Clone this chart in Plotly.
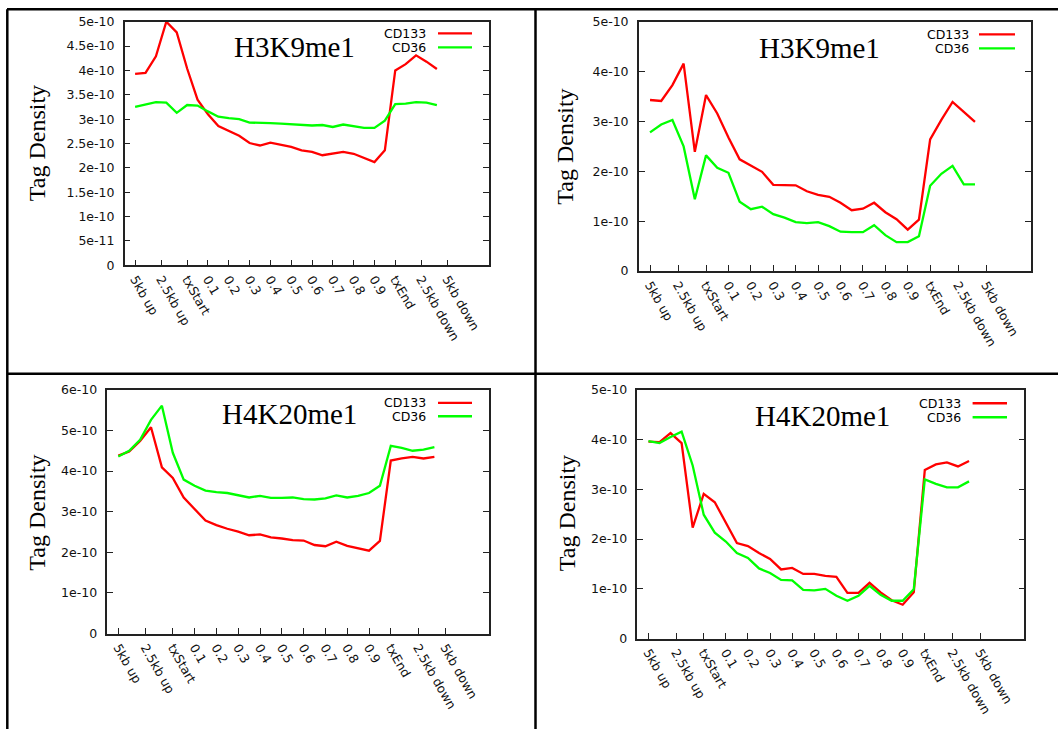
import plotly.graph_objects as go

W, H = 1058, 736
# the photographed page maps page-y to 8 + 0.97826 * y; target positions are pre-compensated
Y_OFF, Y_SCALE = 8.0, 720.0 / 736.0

# ---------------- data ----------------
bins = list(range(30))  # 5 upstream bins, 20 gene-body bins, 5 downstream bins
tick_pos = [0, 2.5, 5, 7, 9, 11, 13, 15, 17, 19, 21, 23, 25, 27.5, 30]
tick_labels = ["5kb up", "2.5kb up", "txStart", "0.1", "0.2", "0.3", "0.4", "0.5",
               "0.6", "0.7", "0.8", "0.9", "txEnd", "2.5kb down", "5kb down"]

# panel 1 (top-left) H3K9me1, units 1e-10
p1_cd133 = [3.93, 3.95, 4.29, 5.00, 4.78, 4.04, 3.40, 3.10, 2.86, 2.76, 2.66, 2.51, 2.46, 2.52, 2.47,
            2.43, 2.36, 2.33, 2.26, 2.29, 2.33, 2.29, 2.21, 2.12, 2.36, 4.00, 4.13, 4.31, 4.18, 4.03]
p1_cd36 = [3.25, 3.30, 3.35, 3.34, 3.13, 3.29, 3.28, 3.16, 3.05, 3.02, 3.00, 2.93, 2.93, 2.92, 2.91,
           2.90, 2.88, 2.87, 2.88, 2.84, 2.89, 2.85, 2.82, 2.82, 2.97, 3.31, 3.32, 3.35, 3.34, 3.29]
# panel 2 (top-right) H3K9me1
p2_cd133 = [3.43, 3.41, 3.73, 4.16, 2.39, 3.53, 3.16, 2.68, 2.24, 2.12, 1.99, 1.73, 1.73, 1.72, 1.60,
            1.53, 1.49, 1.37, 1.22, 1.25, 1.37, 1.18, 1.04, 0.83, 1.03, 2.64, 3.03, 3.39, 3.19, 2.99]
p2_cd36 = [2.78, 2.94, 3.03, 2.50, 1.44, 2.32, 2.07, 1.97, 1.39, 1.24, 1.29, 1.14, 1.07, 0.98, 0.96,
           0.98, 0.90, 0.79, 0.78, 0.78, 0.92, 0.72, 0.58, 0.58, 0.70, 1.71, 1.95, 2.11, 1.74, 1.74]
# panel 3 (bottom-left) H4K20me1
p3_cd133 = [4.38, 4.48, 4.74, 5.08, 4.09, 3.83, 3.35, 3.06, 2.78, 2.67, 2.58, 2.51, 2.42, 2.44, 2.37,
            2.34, 2.30, 2.29, 2.18, 2.15, 2.26, 2.16, 2.10, 2.04, 2.28, 4.26, 4.31, 4.35, 4.31, 4.35]
p3_cd36 = [4.36, 4.50, 4.77, 5.26, 5.61, 4.45, 3.79, 3.64, 3.52, 3.48, 3.46, 3.40, 3.35, 3.39, 3.34,
           3.34, 3.35, 3.31, 3.30, 3.33, 3.40, 3.35, 3.39, 3.46, 3.64, 4.62, 4.57, 4.50, 4.53, 4.59]
# panel 4 (bottom-right) H4K20me1
p4_cd133 = [3.96, 3.95, 4.13, 3.93, 2.23, 2.91, 2.74, 2.34, 1.92, 1.86, 1.72, 1.60, 1.39, 1.42, 1.30,
            1.30, 1.26, 1.24, 0.92, 0.92, 1.12, 0.93, 0.77, 0.68, 0.93, 3.39, 3.50, 3.54, 3.46, 3.57]
p4_cd36 = [3.97, 3.93, 4.05, 4.16, 3.48, 2.49, 2.13, 1.95, 1.72, 1.62, 1.41, 1.32, 1.18, 1.17, 0.98,
           0.97, 1.00, 0.86, 0.76, 0.86, 1.06, 0.88, 0.76, 0.76, 0.99, 3.20, 3.11, 3.04, 3.04, 3.16]

titles = ["H3K9me1", "H3K9me1", "H4K20me1", "H4K20me1"]
series_names = ["CD133", "CD36"]
y_ticks_1 = [0, 0.5e-10, 1e-10, 1.5e-10, 2e-10, 2.5e-10, 3e-10, 3.5e-10, 4e-10, 4.5e-10, 5e-10]
y_labels_1 = ["0", "5e-11", "1e-10", "1.5e-10", "2e-10", "2.5e-10", "3e-10", "3.5e-10", "4e-10", "4.5e-10", "5e-10"]
y_ticks_5 = [0, 1e-10, 2e-10, 3e-10, 4e-10, 5e-10]
y_labels_5 = ["0", "1e-10", "2e-10", "3e-10", "4e-10", "5e-10"]
y_ticks_6 = [0, 1e-10, 2e-10, 3e-10, 4e-10, 5e-10, 6e-10]
y_labels_6 = ["0", "1e-10", "2e-10", "3e-10", "4e-10", "5e-10", "6e-10"]

RED = "#ff0000"
GREEN = "#00ff00"
SANS = "DejaVu Sans, Liberation Sans, sans-serif"
SERIF = "Liberation Serif, Times New Roman, serif"
TICK_SIZE = 12.5


def px_x(p):
    return p / W


def page_y(p):
    return 1 - p / H


def px_y(p):
    return page_y((p - Y_OFF) / Y_SCALE)


# panel layout in target pixels: left, right, top, bottom
panels = [
    dict(box=(124.7, 488.9, 21.7, 265.0), data=(p1_cd133, p1_cd36), yt=(y_ticks_1, y_labels_1), yr=5e-10,
         title=(294, 46.7), ylab=(37, 143), leg=(428.4, 33.3, 47.3, 438, 472)),
    dict(box=(638.8, 1031.0, 21.7, 270.7), data=(p2_cd133, p2_cd36), yt=(y_ticks_5, y_labels_5), yr=5e-10,
         title=(819, 47.7), ylab=(565.5, 147), leg=(971, 34.3, 48.3, 979, 1015)),
    dict(box=(107.4, 488.9, 389.3, 632.7), data=(p3_cd133, p3_cd36), yt=(y_ticks_6, y_labels_6), yr=6e-10,
         title=(289, 413), ylab=(37, 512), leg=(428.4, 402.3, 415.7, 438, 472)),
    dict(box=(637.4, 1024.3, 389.3, 637.7), data=(p4_cd133, p4_cd36), yt=(y_ticks_5, y_labels_5), yr=5e-10,
         title=(822, 415.7), ylab=(566.5, 513), leg=(963.4, 402.7, 416.7, 972.6, 1007)),
]

fig = go.Figure()
annotations = []
shapes = []

for i, p in enumerate(panels):
    n = "" if i == 0 else str(i + 1)
    xa, ya = "x" + n, "y" + n
    red_vals, green_vals = p["data"]
    fig.add_trace(go.Scatter(x=bins, y=[v * 1e-10 for v in red_vals], mode="lines",
                             line=dict(color=RED, width=2.3), name=series_names[0],
                             xaxis=xa, yaxis=ya, showlegend=False))
    fig.add_trace(go.Scatter(x=bins, y=[v * 1e-10 for v in green_vals], mode="lines",
                             line=dict(color=GREEN, width=2.3), name=series_names[1],
                             xaxis=xa, yaxis=ya, showlegend=False))
    l, r, t, b = p["box"]
    fig.update_layout(**{
        "xaxis" + n: dict(domain=[px_x(l), px_x(r)], range=[-1, 34], anchor=ya,
                          tickvals=tick_pos, ticktext=tick_labels, tickangle=60,
                          ticks="inside", ticklen=6, tickcolor="#222", tickwidth=1,
                          showline=True, linecolor="#222", linewidth=1.5, mirror=True,
                          showgrid=False, zeroline=False,
                          tickfont=dict(family=SANS, size=TICK_SIZE, color="#111")),
        "yaxis" + n: dict(domain=[px_y(b), px_y(t)], range=[0, p["yr"]], anchor=xa,
                          tickvals=p["yt"][0], ticktext=p["yt"][1],
                          ticks="inside", ticklen=6, tickcolor="#222", tickwidth=1,
                          showline=True, linecolor="#222", linewidth=1.5, mirror="ticks",
                          showgrid=False, zeroline=False, ticklabelstandoff=6,
                          tickfont=dict(family=SANS, size=TICK_SIZE, color="#111")),
    })
    # panel title
    annotations.append(dict(text=titles[i], x=px_x(p["title"][0]), y=px_y(p["title"][1]),
                            xref="paper", yref="paper", showarrow=False, xanchor="center", yanchor="middle",
                            font=dict(family=SERIF, size=29, color="#000")))
    # y axis title
    annotations.append(dict(text="Tag Density", x=px_x(p["ylab"][0]), y=px_y(p["ylab"][1]),
                            xref="paper", yref="paper", showarrow=False, xanchor="center", yanchor="middle",
                            textangle=-90, font=dict(family=SERIF, size=24, color="#000")))
    # legend
    tx, y1, y2, lx0, lx1 = p["leg"]
    for name, yy, col in ((series_names[0], y1, RED), (series_names[1], y2, GREEN)):
        annotations.append(dict(text=name, x=px_x(tx), y=px_y(yy), xref="paper", yref="paper",
                                showarrow=False, xanchor="right", yanchor="middle",
                                font=dict(family=SANS, size=TICK_SIZE, color="#000")))
        shapes.append(dict(type="line", xref="paper", yref="paper", x0=px_x(lx0), x1=px_x(lx1),
                           y0=px_y(yy), y1=px_y(yy), line=dict(color=col, width=2.3)))

# table grid lines, given directly in page pixels (edges kept inside the page)
mid_h = (373.3 - Y_OFF) / Y_SCALE
grid_lines = [
    (7, 1.3, W, 1.3),          # top
    (7.3, 1.3, 7.3, H),        # left
    (535.5, 1.3, 535.5, H),    # middle vertical
    (7, mid_h, W, mid_h),      # middle horizontal
]
for x0, y0, x1, y1 in grid_lines:
    shapes.append(dict(type="line", xref="paper", yref="paper", x0=px_x(x0), x1=px_x(x1),
                       y0=page_y(y0), y1=page_y(y1), line=dict(color="#000", width=2.5)))

fig.update_layout(width=W, height=H, autosize=False, margin=dict(l=0, r=0, t=0, b=0),
                  paper_bgcolor="white", plot_bgcolor="white",
                  annotations=annotations, shapes=shapes, showlegend=False)

fig.write_html("out.html", config={"displayModeBar": False},
               post_script="document.body.style.margin='0px';document.body.style.overflow='hidden';")
